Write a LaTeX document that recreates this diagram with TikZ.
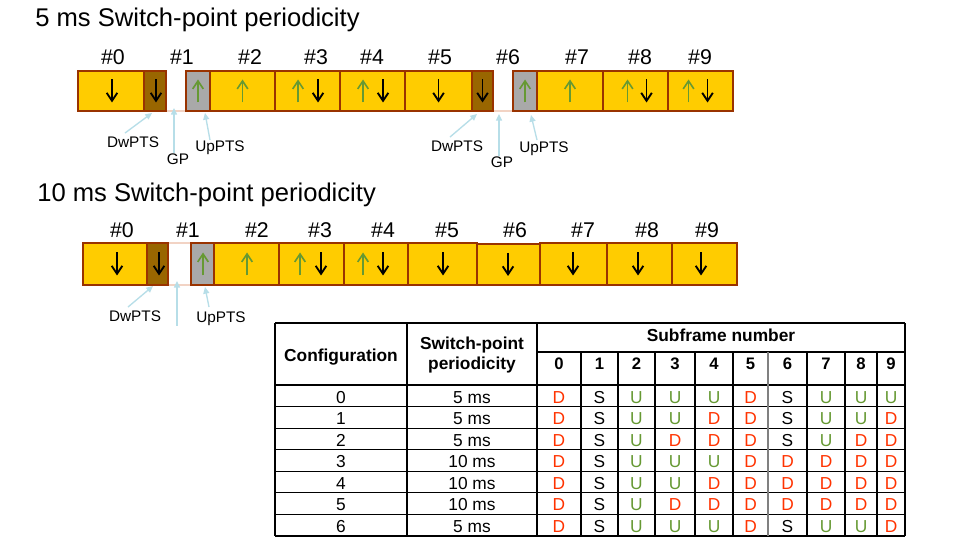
\documentclass[tikz,border=0pt]{standalone}
\usepackage{fontspec}
\setmainfont{Liberation Sans}
\usetikzlibrary{arrows.meta,calc}
\definecolor{sfy}{HTML}{FFCC00}
\definecolor{sfb}{HTML}{993300}
\definecolor{sfd}{HTML}{996600}
\definecolor{sfg}{HTML}{A9A9A9}
\definecolor{upg}{HTML}{669933}
\definecolor{conc}{HTML}{B7DEE8}
\definecolor{gapc}{HTML}{F2D3C4}
\definecolor{colD}{HTML}{FF3300}
\definecolor{colU}{HTML}{669933}
\definecolor{colS}{HTML}{000000}
\newcommand{\subfr}[6]{\node[#6, minimum width={(#3-#2)*0.75pt}, minimum height={(#5-#4)*0.75pt}] (#1) at ({(#2+#3)/2},{(#4+#5)/2}) {};}
\newcommand{\dnar}[2]{\draw[dnarrow] ($(#1.center)+(#2,-11.5)$) -- ($(#1.center)+(#2,11.5)$);}
\newcommand{\upar}[2]{\draw[uparrow] ($(#1.center)+(#2,11.5)$) -- ($(#1.center)+(#2,-11.5)$);}
\begin{document}
\begin{tikzpicture}[x=0.75pt,y=-0.75pt,
  sfyel/.style={draw=sfb, line width=1.9pt, fill=sfy, inner sep=0pt, outer sep=0pt},
  sfdw/.style={sfyel, fill=sfd},
  sfup/.style={draw=sfb, line width=1.2pt, fill=sfg, inner sep=0pt, outer sep=0pt},
  sfgap/.style={draw=none, inner sep=0pt, outer sep=0pt},
  dnarrow/.style={line width=1.4pt, black, -{Straight Barb[length=6pt,width=8pt]}},
  uparrow/.style={line width=1.2pt, upg, -{Straight Barb[length=6pt,width=8pt]}},
  conn/.style={conc, line width=1pt, -{Triangle[length=5pt,width=4.5pt]}},
  ttl/.style={inner sep=0pt, anchor=base west, font=\fontsize{19.2}{22}\selectfont},
  flbl/.style={inner sep=0pt, anchor=base, font=\fontsize{16}{19}\selectfont},
  plbl/.style={inner sep=0pt, anchor=base, font=\fontsize{11.5}{14}\selectfont},
  thead/.style={inner sep=0pt, anchor=base, font=\bfseries\fontsize{13}{15}\selectfont},
  tnum/.style={inner sep=0pt, anchor=base, font=\bfseries\fontsize{12.5}{15}\selectfont},
  tcell/.style={inner sep=0pt, anchor=base, font=\fontsize{13}{15}\selectfont},
  tline/.style={black, line width=0.8pt}
]
\path[fill=white,use as bounding box] (0,0) rectangle (953,559);

% ---------- 5 ms ----------
\node[ttl] (t5) at (35,27) {5 ms Switch-point periodicity};
\draw[gapc, line width=0.8pt] (166,111) -- (186,111) (493,111) -- (513,111);
\subfr{a0}{78}{144}{71}{111}{sfyel}
\subfr{ad1}{144}{166}{71}{111}{sfdw}
\subfr{ag1}{166}{186}{71}{111}{sfgap}
\subfr{au1}{186}{210}{71}{111}{sfup}
\subfr{a2}{210}{275}{71}{111}{sfyel}
\subfr{a3}{275}{340}{71}{111}{sfyel}
\subfr{a4}{340}{405}{71}{111}{sfyel}
\subfr{a5}{405}{472}{71}{111}{sfyel}
\subfr{ad6}{472}{493}{71}{111}{sfdw}
\subfr{ag6}{493}{513}{71}{111}{sfgap}
\subfr{au6}{513}{537}{71}{111}{sfup}
\subfr{a7}{537}{603}{71}{111}{sfyel}
\subfr{a8}{603}{668}{71}{111}{sfyel}
\subfr{a9}{668}{733}{71}{111}{sfyel}
\dnar{a0}{1}
\dnar{ad1}{1}
\upar{au1}{0}
\upar{a2}{0}
\upar{a3}{-9.5}\dnar{a3}{10.5}
\upar{a4}{-9.5}\dnar{a4}{10.5}
\dnar{a5}{0}
\dnar{ad6}{0}
\upar{au6}{0}
\upar{a7}{0}
\upar{a8}{-8}\dnar{a8}{11}
\upar{a9}{-12}\dnar{a9}{7}
\node[flbl] (an0) at (113,65) {\#0};
\node[flbl] (an1) at (182,65) {\#1};
\node[flbl] (an2) at (250,65) {\#2};
\node[flbl] (an3) at (316,65) {\#3};
\node[flbl] (an4) at (372,65) {\#4};
\node[flbl] (an5) at (440,65) {\#5};
\node[flbl] (an6) at (508,65) {\#6};
\node[flbl] (an7) at (577,65) {\#7};
\node[flbl] (an8) at (640,65) {\#8};
\node[flbl] (an9) at (700,65) {\#9};
\node[plbl] (adw1) at (133,148) {DwPTS};
\node[plbl] (agp1) at (178,165) {GP};
\node[plbl] (aup1) at (220,152) {UpPTS};
\node[plbl] (adw6) at (457,152) {DwPTS};
\node[plbl] (agp6) at (502,168) {GP};
\node[plbl] (aup6) at (544,153) {UpPTS};
\draw[conn] ($(adw1.north)+(-8,-4)$) -- ($(ad1.south)+(-3,2)$);
\draw[conn] ($(agp1.north)+(-4,-1)$) -- ($(ag1.south)+(-2,-3)$);
\draw[conn] ($(aup1.north)+(-10,-1)$) -- ($(au1.south)+(7,2)$);
\draw[conn] ($(adw6.north)+(-7,-4)$) -- ($(ad6.south)+(-5.5,3)$);
\draw[conn] ($(agp6.north)+(-3,-1)$) -- ($(ag6.south)+(-4,3)$);
\draw[conn] ($(aup6.north)+(-7,-2)$) -- ($(au6.south)+(6,4)$);

% ---------- 10 ms ----------
\node[ttl] (t10) at (37,202) {10 ms Switch-point periodicity};
\draw[gapc, line width=0.8pt] (168,243) -- (191,243) (168,285) -- (191,285);
\subfr{b0}{83}{147}{243}{285}{sfyel}
\subfr{bd1}{147}{168}{243}{285}{sfdw}
\subfr{bg1}{168}{191}{243}{285}{sfgap}
\subfr{bu1}{191}{214}{243}{285}{sfup}
\subfr{b2}{214}{279}{243}{285}{sfyel}
\subfr{b3}{279}{344}{243}{285}{sfyel}
\subfr{b4}{344}{408}{243}{285}{sfyel}
\subfr{b5}{408}{477}{243}{285}{sfyel}
\subfr{b6}{477}{540}{244}{285}{sfyel}
\subfr{b7}{540}{607}{243}{285}{sfyel}
\subfr{b8}{607}{672}{243}{285}{sfyel}
\subfr{b9}{672}{737}{243}{285}{sfyel}
\dnar{b0}{2}
\dnar{bd1}{1.5}
\upar{bu1}{0.5}
\upar{b2}{0.5}
\upar{b3}{-11.5}\dnar{b3}{9.5}
\upar{b4}{-13}\dnar{b4}{7}
\dnar{b5}{0.5}
\dnar{b6}{-0.5}
\dnar{b7}{-0.5}
\dnar{b8}{-1.5}
\dnar{b9}{-3.5}
\node[flbl] (bn0) at (122,238) {\#0};
\node[flbl] (bn1) at (188,238) {\#1};
\node[flbl] (bn2) at (257,238) {\#2};
\node[flbl] (bn3) at (320,238) {\#3};
\node[flbl] (bn4) at (383,238) {\#4};
\node[flbl] (bn5) at (447,238) {\#5};
\node[flbl] (bn6) at (515,238) {\#6};
\node[flbl] (bn7) at (583,238) {\#7};
\node[flbl] (bn8) at (647,238) {\#8};
\node[flbl] (bn9) at (707,238) {\#9};
\node[plbl] (bdw1) at (135,322) {DwPTS};
\node[plbl] (bup1) at (221,323) {UpPTS};
\coordinate (bgpend) at (177,326);
\draw[conn] ($(bdw1.north)+(-7,-4)$) -- ($(bd1.south)+(-4.5,1)$);
\draw[conn] (bgpend) -- ($(bg1.south)+(-2.5,-4)$);
\draw[conn] ($(bup1.north)+(-12,-5)$) -- ($(bu1.south)+(2.5,2)$);

% ---------- table ----------
\draw[tline] (275,323) -- (905,323);
\draw[tline] (537,352) -- (905,352);
\draw[tline] (275,385) -- (905,385);
\foreach \k in {1,...,7} {\draw[tline] (275,{385+21.571*\k}) -- (905,{385+21.571*\k});}
\foreach \xx in {275,407,537,905} {\draw[tline] (\xx,323) -- (\xx,536);}
\foreach \xx in {581,618,655,695,733,807,845,877} {\draw[tline] (\xx,352) -- (\xx,536);}
\draw[gray, line width=0.8pt] (768,352) -- (768,536);
\node[thead] (hcfg) at (341,362) {Configuration};
\node[thead] (hper1) at (472,350) {Switch-point};
\node[thead] (hper2) at (472,370) {periodicity};
\node[thead] (hsub) at (721,342) {Subframe number};
\foreach \cx [count=\i from 0] in {559,599.5,636.5,675,714,750.5,787.5,826,861,891} {
  \node[tnum] (hn\i) at (\cx,370) {\i};
}
\foreach \r/\p/\v in {0/5 ms/{D,S,U,U,U,D,S,U,U,U},
                      1/5 ms/{D,S,U,U,D,D,S,U,U,D},
                      2/5 ms/{D,S,U,D,D,D,S,U,D,D},
                      3/10 ms/{D,S,U,U,U,D,D,D,D,D},
                      4/10 ms/{D,S,U,U,D,D,D,D,D,D},
                      5/10 ms/{D,S,U,D,D,D,D,D,D,D},
                      6/5 ms/{D,S,U,U,U,D,S,U,U,D}} {
  \node[tcell] (cfg\r) at (341,{403+21.571*\r}) {\r};
  \node[tcell] (per\r) at (472,{403+21.571*\r}) {\p};
  \foreach \l [count=\i from 0] in \v {
    \pgfmathsetmacro{\cx}{{559,599.5,636.5,675,714,750.5,787.5,826,861,891}[\i]}
    \node[tcell, text=col\l] (c\r-\i) at (\cx,{403+21.571*\r}) {\l};
  }
}
\end{tikzpicture}
\end{document}
